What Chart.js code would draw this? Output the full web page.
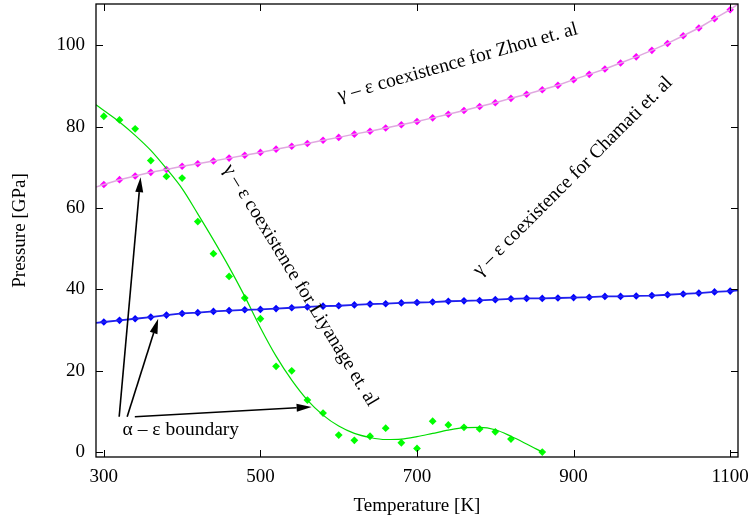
<!DOCTYPE html>
<html>
<head>
<meta charset="utf-8">
<script src="https://cdn.jsdelivr.net/npm/chart.js@4/dist/chart.umd.min.js"></script>
<style>
  html, body { margin: 0; padding: 0; background: #fff; }
  #wrap { width: 751px; height: 520px; }
</style>
</head>
<body>
<div id="wrap"><canvas id="myChart" width="751" height="520"></canvas></div>
<script>
// temperatures of the computed points
var tempGrid = [300, 320, 340, 360, 380, 400, 420, 440, 460, 480, 500, 520, 540, 560, 580,
    600, 620, 640, 660, 680, 700, 720, 740, 760, 780, 800, 820, 840, 860, 880, 900,
    920, 940, 960, 980, 1000, 1020, 1040, 1060, 1080, 1100];

var zhouP = [65.8, 67.0, 67.9, 68.8, 69.5, 70.3, 70.9, 71.6, 72.3, 73.0, 73.7, 74.5, 75.2, 75.9,
    76.7, 77.4, 78.2, 78.9, 79.7, 80.5, 81.3, 82.2, 83.1, 84.0, 85.0, 85.9, 87.0, 88.0, 89.1,
    90.2, 91.6, 92.9, 94.2, 95.7, 97.2, 98.8, 100.5, 102.4, 104.3, 106.6, 108.8];

var chamatiP = [32.0, 32.4, 32.8, 33.2, 33.7, 34.1, 34.3, 34.6, 34.8, 35.0, 35.1, 35.3, 35.5, 35.7,
    35.9, 36.0, 36.2, 36.4, 36.5, 36.7, 36.8, 36.9, 37.1, 37.2, 37.3, 37.5, 37.7, 37.8, 37.8,
    37.9, 38.0, 38.1, 38.3, 38.3, 38.4, 38.5, 38.7, 38.9, 39.1, 39.4, 39.6];

// ends of the two fitted lines at the frame
var zhouEnds = [[290, 65.2], [1110, 110.2]];
var chamatiEnds = [[290, 31.8], [1110, 39.8]];

var liyanageT = [300, 320, 340, 360, 380, 400, 420, 440, 460, 480, 500, 520, 540, 560, 580,
    600, 620, 640, 660, 680, 700, 720, 740, 760, 780, 800, 820, 860];
var liyanageP = [82.6, 81.7, 79.5, 71.7, 67.8, 67.4, 56.7, 48.8, 43.2, 37.9, 32.8, 21.1, 20.0, 12.8,
    9.6, 4.2, 2.9, 3.9, 5.9, 2.3, 0.9, 7.6, 6.7, 6.1, 5.7, 5.0, 3.2, 0.0];

var liyanageFitT = [290, 300, 320, 340, 360, 380, 400, 420, 440, 460, 480, 500, 520, 540, 560, 580,
    600, 620, 640, 660, 680, 700, 720, 740, 760, 780, 800, 820, 840, 860];
var liyanageFitP = [85.4, 84.0, 81.2, 77.9, 74.2, 69.7, 64.8, 58.6, 52.2, 45.5, 38.3, 30.6, 23.6, 17.7,
    12.8, 9.1, 6.4, 4.6, 3.6, 3.1, 3.2, 3.8, 4.6, 5.4, 6.0, 6.1, 5.5, 3.9, 2.0, 0.0];

var xTicks = [300, 500, 700, 900, 1100];
var yTicks = [0, 20, 40, 60, 80, 100];

function pairs(xs, ys) {
    var out = [];
    for (var i = 0; i < xs.length; i++) {
        out.push({x: xs[i], y: ys[i]});
    }
    return out;
}

function withEnds(ends, xs, ys) {
    var out = pairs(xs, ys);
    out.unshift({x: ends[0][0], y: ends[0][1]});
    out.push({x: ends[1][0], y: ends[1][1]});
    return out;
}

var serif = "'Liberation Serif', 'DejaVu Serif', serif";

// text labels and arrows, placed in data units
var notes = [
    {text: "\u03b3 \u2013 \u03b5 coexistence for Zhou et. al", x: 752, y: 95.8, angle: -15.8},
    {text: "\u03b3 \u2013 \u03b5 coexistence for Chamati et. al", x: 899, y: 67.8, angle: -45},
    {text: "\u03b3 \u2013 \u03b5 coexistence for Liyanage et. al", x: 551, y: 41.0, angle: 58.5}
];
var arrows = [
    [319.6, 8.7, 346.9, 67.6],
    [329.8, 8.7, 369.4, 32.8],
    [339.6, 8.7, 565.4, 11.1]
];

var decorPlugin = {
    id: 'decor',
    afterDatasetsDraw: function(chart) {
        var ctx = chart.ctx;
        var xs = chart.scales.x, ys = chart.scales.y;
        var a = chart.chartArea;
        ctx.save();
        // frame and inward ticks
        ctx.strokeStyle = '#000';
        ctx.lineWidth = 1.3;
        ctx.strokeRect(a.left, a.top, a.right - a.left, a.bottom - a.top);
        ctx.beginPath();
        xTicks.forEach(function(t) {
            var px = Math.round(xs.getPixelForValue(t)) + 0.5;
            ctx.moveTo(px, a.bottom); ctx.lineTo(px, a.bottom - 7);
            ctx.moveTo(px, a.top); ctx.lineTo(px, a.top + 7);
        });
        yTicks.forEach(function(t) {
            var py = Math.round(ys.getPixelForValue(t)) + 0.5;
            ctx.moveTo(a.left, py); ctx.lineTo(a.left + 7, py);
            ctx.moveTo(a.right, py); ctx.lineTo(a.right - 7, py);
        });
        ctx.lineWidth = 1;
        ctx.stroke();

        // arrows
        ctx.lineWidth = 1.6;
        ctx.fillStyle = '#000';
        arrows.forEach(function(ar) {
            var x0 = xs.getPixelForValue(ar[0]), y0 = ys.getPixelForValue(ar[1]);
            var x1 = xs.getPixelForValue(ar[2]), y1 = ys.getPixelForValue(ar[3]);
            var ang = Math.atan2(y1 - y0, x1 - x0);
            var hl = 15, hw = 4;
            var bx = x1 - hl * Math.cos(ang), by = y1 - hl * Math.sin(ang);
            ctx.beginPath();
            ctx.moveTo(x0, y0); ctx.lineTo(bx, by);
            ctx.stroke();
            ctx.beginPath();
            ctx.moveTo(x1, y1);
            ctx.lineTo(bx + hw * Math.sin(ang), by - hw * Math.cos(ang));
            ctx.lineTo(bx - hw * Math.sin(ang), by + hw * Math.cos(ang));
            ctx.closePath();
            ctx.fill();
        });

        // labels
        ctx.font = '19.5px ' + serif;
        ctx.textAlign = 'center';
        ctx.textBaseline = 'middle';
        notes.forEach(function(n) {
            ctx.save();
            ctx.translate(xs.getPixelForValue(n.x), ys.getPixelForValue(n.y));
            ctx.rotate(n.angle * Math.PI / 180);
            ctx.fillText(n.text, 0, 0);
            ctx.restore();
        });
        ctx.textAlign = 'left';
        ctx.fillText("\u03b1 \u2013 \u03b5 boundary", xs.getPixelForValue(324), ys.getPixelForValue(5.4));
        ctx.restore();
    }
};

function plainLabel(v) { return String(v); }

function createChart() {
    var ctx = document.getElementById("myChart").getContext("2d");
    var myChart = new Chart(ctx, {
        type: 'scatter',
        data: {
            datasets: [
                {
                    data: withEnds(zhouEnds, tempGrid, zhouP),
                    showLine: true, pointRadius: 0,
                    borderColor: '#e0a8e0', borderWidth: 1.5
                },
                {
                    data: withEnds(chamatiEnds, tempGrid, chamatiP),
                    showLine: true, pointRadius: 0,
                    borderColor: '#2020ee', borderWidth: 1.8
                },
                {
                    data: pairs(liyanageFitT, liyanageFitP),
                    showLine: true, pointRadius: 0, tension: 0.4,
                    cubicInterpolationMode: 'monotone',
                    borderColor: '#00dd00', borderWidth: 1.2
                },
                {
                    data: pairs(tempGrid, zhouP),
                    pointStyle: 'rectRot', pointRadius: 3.8,
                    backgroundColor: '#ff00ff', borderColor: '#ff00ff', borderWidth: 0
                },
                {
                    data: pairs(tempGrid, chamatiP),
                    pointStyle: 'rectRot', pointRadius: 3.8,
                    backgroundColor: '#0000ff', borderColor: '#0000ff', borderWidth: 0
                },
                {
                    data: pairs(liyanageT, liyanageP),
                    pointStyle: 'rectRot', pointRadius: 3.9,
                    backgroundColor: '#00ff00', borderColor: '#00ff00', borderWidth: 0
                }
            ]
        },
        options: {
            responsive: false,
            animation: false,
            layout: {padding: {top: 3, right: 13, left: 0, bottom: 0}},
            plugins: {
                legend: {display: false},
                tooltip: {enabled: false}
            },
            scales: {
                x: {
                    type: 'linear', min: 290, max: 1110,
                    grid: {display: false, drawTicks: false},
                    border: {display: false},
                    afterBuildTicks: function(s) { s.ticks = xTicks.map(function(v) { return {value: v}; }); },
                    afterFit: function(s) { s.height = 63; s.paddingLeft = 0; s.paddingRight = 0; },
                    ticks: {color: '#000', font: {family: serif, size: 19}, padding: 9, maxRotation: 0,
                        callback: plainLabel},
                    title: {display: true, text: 'Temperature [K]', color: '#000',
                        font: {family: serif, size: 19}, padding: {top: 0, bottom: 3}}
                },
                y: {
                    type: 'linear', min: -1.2, max: 110.2,
                    grid: {display: false, drawTicks: false},
                    border: {display: false},
                    afterBuildTicks: function(s) { s.ticks = yTicks.map(function(v) { return {value: v}; }); },
                    afterFit: function(s) { s.width = 96; s.paddingTop = 0; s.paddingBottom = 0; },
                    ticks: {color: '#000', font: {family: serif, size: 19}, padding: 11, callback: plainLabel},
                    title: {display: true, text: 'Pressure [GPa]', color: '#000',
                        font: {family: serif, size: 19}, padding: {top: 9, bottom: 0}}
                }
            }
        },
        plugins: [decorPlugin]
    });
}
createChart();
</script>
</body>
</html>
